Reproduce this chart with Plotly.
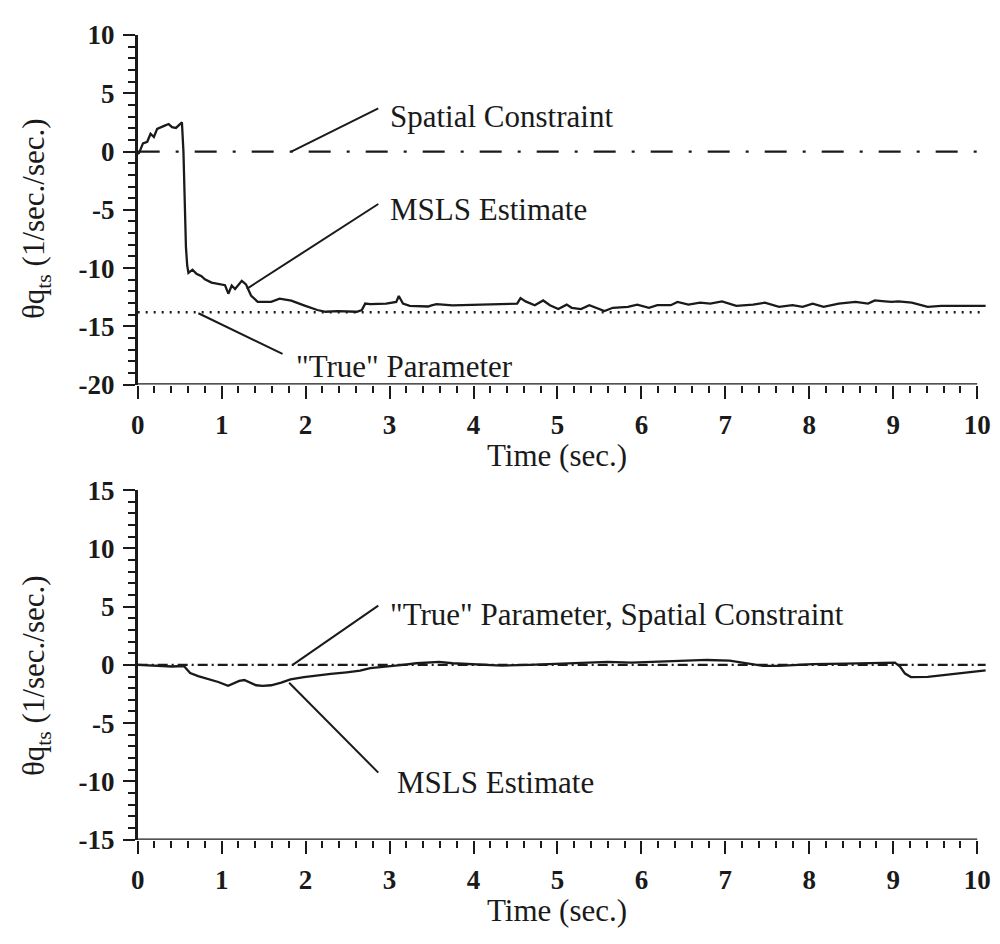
import plotly.graph_objects as go

# ---------------- data ----------------
t_top = [0.0, 0.016, 0.063, 0.114, 0.153, 0.193, 0.232, 0.271, 0.322, 0.369, 0.409, 0.456, 0.487,
         0.527, 0.545, 0.56, 0.575, 0.59, 0.605, 0.653, 0.70, 0.76, 0.80, 0.88, 0.98, 1.04, 1.08,
         1.12, 1.16, 1.24, 1.29, 1.35, 1.43, 1.59, 1.69, 1.83, 1.98, 2.14, 2.24, 2.38, 2.61, 2.67,
         2.71, 2.77, 2.96, 3.08, 3.11, 3.16, 3.24, 3.46, 3.50, 3.56, 3.75, 4.15, 4.34, 4.52, 4.56,
         4.62, 4.73, 4.83, 4.91, 5.01, 5.11, 5.17, 5.28, 5.38, 5.56, 5.66, 5.84, 5.95, 6.09, 6.19,
         6.35, 6.43, 6.56, 6.70, 6.82, 6.96, 7.13, 7.33, 7.47, 7.64, 7.80, 7.92, 8.04, 8.17, 8.35,
         8.55, 8.70, 8.78, 8.90, 8.98, 9.06, 9.22, 9.41, 9.57, 9.84, 10.1]
msls_top = [-0.2, -0.13, 0.70, 0.84, 1.53, 1.25, 1.95, 2.09, 2.22, 2.36, 2.09, 2.03, 2.22,
            2.5, 0.0, -5.4, -8.2, -9.8, -10.42, -10.14, -10.5, -10.7, -10.97, -11.25, -11.4, -11.47, -12.2,
            -11.5, -11.8, -11.1, -11.4, -12.36, -12.9, -12.9, -12.63, -12.8, -13.2, -13.6, -13.75, -13.7, -13.75, -13.6,
            -13.05, -13.1, -13.05, -12.9, -12.4, -13.05, -13.25, -13.3, -13.2, -13.1, -13.2, -13.1, -13.1, -13.05, -12.58,
            -12.86, -13.19, -12.78, -13.19, -13.52, -13.14, -13.41, -13.52, -13.19, -13.69, -13.41, -13.33, -13.14, -13.41, -13.19,
            -13.19, -12.91, -13.14, -12.97, -13.05, -12.86, -13.25, -13.14, -12.97, -13.33, -13.19, -13.33, -13.05, -13.33, -13.05,
            -12.91, -13.05, -12.78, -12.86, -12.91, -12.86, -12.97, -13.33, -13.25, -13.25, -13.25]
true_top = -13.8
constraint_top = 0.0

t_bot = [0.0, 0.21, 0.41, 0.55, 0.625, 0.72, 0.84, 0.96, 1.077, 1.155, 1.21, 1.27, 1.33, 1.41, 1.49,
         1.59, 1.71, 1.82, 1.98, 2.14, 2.30, 2.49, 2.65, 2.77, 2.89, 3.04, 3.16, 3.32, 3.47, 3.59,
         3.75, 3.95, 4.15, 4.34, 4.66, 4.93, 5.09, 5.60, 5.88, 6.27, 6.78, 7.05, 7.21, 7.45, 7.64,
         8.04, 8.43, 8.82, 9.02, 9.08, 9.14, 9.21, 9.41, 9.65, 9.88, 10.1]
msls_bot = [0.0, -0.06, -0.14, -0.1, -0.70, -0.97, -1.19, -1.47, -1.80, -1.58, -1.38, -1.30, -1.47, -1.75, -1.80,
            -1.75, -1.53, -1.25, -1.05, -0.89, -0.78, -0.64, -0.50, -0.28, -0.19, -0.14, 0.0, 0.14, 0.22, 0.25,
            0.14, 0.06, -0.03, -0.06, 0.0, 0.06, 0.08, 0.25, 0.19, 0.28, 0.42, 0.36, 0.19, -0.08, -0.08,
            0.06, 0.11, 0.14, 0.19, -0.14, -0.75, -1.05, -1.03, -0.83, -0.64, -0.47]
true_bot = 0.0

ref_t = [0.0, 10.1]

x_ticks = [0, 1, 2, 3, 4, 5, 6, 7, 8, 9, 10]
x_ticklabels = ["0", "1", "2", "3", "4", "5", "6", "7", "8", "9", "10"]
y_top_ticks = [10, 5, 0, -5, -10, -15, -20]
y_top_labels = ["10", "5", "0", "-5", "-10", "-15", "-20"]
y_bot_ticks = [15, 10, 5, 0, -5, -10, -15]
y_bot_labels = ["15", "10", "5", "0", "-5", "-10", "-15"]

y_title = "θq<sub>ts</sub> (1/sec./sec.)"
x_title = "Time (sec.)"

# ---------------- figure ----------------
FONT = "Liberation Serif"
BLACK = "#1a1a1a"

fig = go.Figure()

# top panel
fig.add_trace(go.Scatter(x=ref_t, y=[constraint_top] * 2, mode="lines",
                         line=dict(color=BLACK, width=2.2, dash="22px,16px,3px,16px"),
                         xaxis="x", yaxis="y", showlegend=False))
fig.add_trace(go.Scatter(x=ref_t, y=[true_top] * 2, mode="lines",
                         line=dict(color=BLACK, width=2.5, dash="2px,6px"),
                         xaxis="x", yaxis="y", showlegend=False))
fig.add_trace(go.Scatter(x=t_top, y=msls_top, mode="lines",
                         line=dict(color=BLACK, width=2.3),
                         xaxis="x", yaxis="y", showlegend=False))

# bottom panel
fig.add_trace(go.Scatter(x=ref_t, y=[true_bot] * 2, mode="lines",
                         line=dict(color=BLACK, width=2.2, dash="10px,4px,2px,4px"),
                         xaxis="x2", yaxis="y2", showlegend=False))
fig.add_trace(go.Scatter(x=t_bot, y=msls_bot, mode="lines",
                         line=dict(color=BLACK, width=2.3),
                         xaxis="x2", yaxis="y2", showlegend=False))

tickfont = dict(family=FONT, size=27, color=BLACK, weight="bold")

def xaxis_cfg(anchor):
    return dict(domain=[0.132, 0.9902], range=[0, 10.12], anchor=anchor,
                showline=False, showgrid=False, zeroline=False,
                tickmode="array", tickvals=x_ticks, ticktext=x_ticklabels,
                ticks="outside", ticklen=13, tickwidth=1.5, tickcolor=BLACK,
                minor=dict(tickmode="linear", tick0=0, dtick=0.2, ticks="outside",
                           ticklen=7, tickwidth=1.5, tickcolor=BLACK, showgrid=False),
                tickfont=tickfont, ticklabelstandoff=3)

def yaxis_cfg(anchor, domain, rng, tv, tt):
    return dict(domain=domain, range=rng, anchor=anchor,
                showline=True, linewidth=2.5, linecolor=BLACK, showgrid=False, zeroline=False,
                tickmode="array", tickvals=tv, ticktext=tt,
                ticks="outside", ticklen=12, tickwidth=1.5, tickcolor=BLACK,
                minor=dict(tickmode="linear", tick0=0, dtick=1, ticks="outside",
                           ticklen=7, tickwidth=1.5, tickcolor=BLACK, showgrid=False),
                tickfont=tickfont, ticklabelstandoff=3)

top_dom = [1 - 381.7 / 944, 1 - 20.7 / 944]
bot_dom = [1 - 851.7 / 944, 1 - 490.7 / 944]

shapes = [
    # x axis lines (ending at 10)
    dict(type="line", xref="x", yref="y", x0=0, x1=10, y0=-20, y1=-20, line=dict(color=BLACK, width=2.5)),
    dict(type="line", xref="x2", yref="y2", x0=0, x1=10, y0=-15, y1=-15, line=dict(color=BLACK, width=2.5)),
    # leader lines top
    dict(type="line", xref="x", yref="y", x0=1.83, y0=0.0, x1=2.866, y1=3.7, line=dict(color=BLACK, width=2)),
    dict(type="line", xref="x", yref="y", x0=1.30, y0=-11.78, x1=2.866, y1=-4.5, line=dict(color=BLACK, width=2)),
    dict(type="line", xref="x", yref="y", x0=0.723, y0=-13.88, x1=1.725, y1=-17.36, line=dict(color=BLACK, width=2)),
    # leader lines bottom
    dict(type="line", xref="x2", yref="y2", x0=1.846, y0=0.0, x1=2.866, y1=5.08, line=dict(color=BLACK, width=2)),
    dict(type="line", xref="x2", yref="y2", x0=1.804, y0=-1.53, x1=2.866, y1=-9.25, line=dict(color=BLACK, width=2)),
]

lab_font = dict(family=FONT, size=31, color=BLACK)
annotations = [
    dict(xref="x", yref="y", x=2.98, y=3.05, text="Spatial Constraint", showarrow=False,
         xanchor="left", yanchor="middle", font=lab_font),
    dict(xref="x", yref="y", x=2.98, y=-5.0, text="MSLS Estimate", showarrow=False,
         xanchor="left", yanchor="middle", font=lab_font),
    dict(xref="x", yref="y", x=1.863, y=-18.47, text="\"True\" Parameter", showarrow=False,
         xanchor="left", yanchor="middle", font=lab_font),
    dict(xref="x2", yref="y2", x=2.98, y=4.3, text="\"True\" Parameter, Spatial Constraint", showarrow=False,
         xanchor="left", yanchor="middle", font=lab_font),
    dict(xref="x2", yref="y2", x=3.06, y=-10.1, text="MSLS Estimate", showarrow=False,
         xanchor="left", yanchor="middle", font=lab_font),
    # axis titles
    dict(xref="paper", yref="paper", x=0.556, y=1 - 455 / 944, text=x_title, showarrow=False,
         xanchor="center", yanchor="middle", font=lab_font),
    dict(xref="paper", yref="paper", x=0.556, y=1 - 925 / 944, text=x_title, showarrow=False,
         xanchor="center", yanchor="middle", font=lab_font),
    dict(xref="paper", yref="paper", x=0.03, y=1 - 210 / 944, text=y_title,
         showarrow=False, textangle=-90, xanchor="center", yanchor="middle", font=lab_font),
    dict(xref="paper", yref="paper", x=0.03, y=1 - 682 / 944, text=y_title,
         showarrow=False, textangle=-90, xanchor="center", yanchor="middle", font=lab_font),
]

fig.update_layout(
    width=1000, height=944,
    margin=dict(l=0, r=0, t=0, b=0),
    paper_bgcolor="white", plot_bgcolor="white",
    font=dict(family=FONT, color=BLACK),
    xaxis=xaxis_cfg("y"),
    yaxis=yaxis_cfg("x", top_dom, [-20, 10], y_top_ticks, y_top_labels),
    xaxis2=xaxis_cfg("y2"),
    yaxis2=yaxis_cfg("x2", bot_dom, [-15, 15], y_bot_ticks, y_bot_labels),
    shapes=shapes,
    annotations=annotations,
    showlegend=False,
)

fig.write_html("out.html")
